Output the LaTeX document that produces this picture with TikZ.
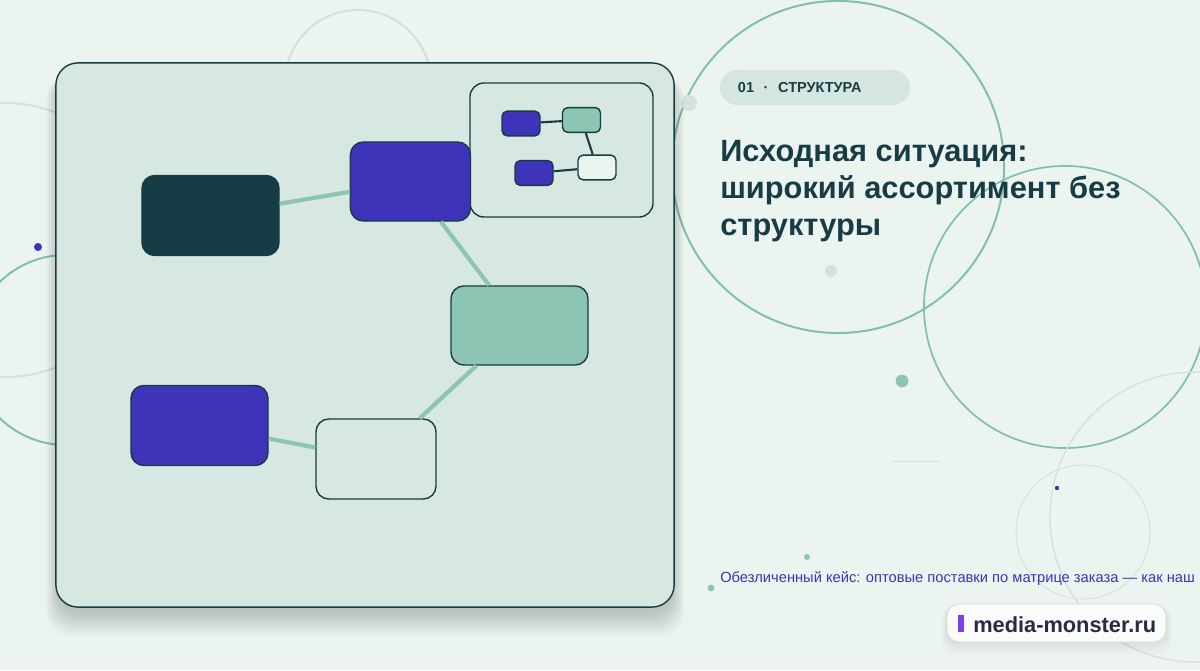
\documentclass[tikz,border=0pt]{standalone}
\usepackage{fontspec}
\setmainfont{Liberation Sans}
\usepackage{tikz}
\usetikzlibrary{positioning, shadows}
\definecolor{bg}{HTML}{ECF4F0}
\definecolor{panel}{HTML}{D7E8E2}
\definecolor{ink}{HTML}{173C46}
\definecolor{indigo}{HTML}{3E33B9}
\definecolor{mint}{HTML}{8CC5B3}
\definecolor{ringgreen}{HTML}{80BFA9}
\definecolor{haze}{HTML}{D3E2DC}
\definecolor{pillfill}{HTML}{D5E6E0}
\definecolor{violet}{HTML}{7B3FE4}
\definecolor{logoink}{HTML}{2B2A45}
\tikzset{
    node distance = 1.75cm and 1.75cm,% gap between two cards
    card/.style = {rectangle, draw=ink, line width=1pt, rounded corners=0.32cm, inner sep=0pt, minimum width=3.425cm, minimum height=2cm}, % the big boxes of the panel
    mini/.style = {rectangle, draw=ink, line width=1pt, rounded corners=0.13cm, inner sep=0pt, minimum width=0.95cm, minimum height=0.62cm}, % boxes of the small map
    link/.style = {draw=mint, line width=3pt},
    wire/.style = {draw=ink, line width=1.5pt},
    hoop/.style = {draw=ringgreen, line width=1.4pt},
    faint/.style = {draw=haze, line width=1.2pt},
    pill/.style = {fill=pillfill, rounded corners=0.43cm, minimum width=4.75cm, minimum height=0.875cm, text width=3.85cm, inner xsep=0.45cm, align=left, text=ink, font=\fontsize{10.3}{12}\selectfont\bfseries}
}
\begin{document}
\begin{tikzpicture}[x=0.025cm, y=-0.025cm]
    \useasboundingbox (0,0) rectangle (1200,670);
    \fill[bg] (0,0) rectangle (1200,670);
    % rings behind everything
    \draw[hoop] (838,167) circle [radius=4.15cm];
    \draw[hoop, line width=1.2pt] (1065,307) circle [radius=3.525cm];
    \draw[faint, line width=1pt] (1195,517) circle [radius=3.625cm];
    \draw[faint, line width=0.7pt] (1083,532) circle [radius=1.675cm];
    \draw[faint, line width=1.5pt] (358,83) circle [radius=1.825cm];
    \draw[faint, line width=1.5pt] (5,240) circle [radius=3.425cm];
    \draw[hoop] (66,350) circle [radius=2.375cm];
    \draw[haze, line width=0.6pt] (892,461) -- (940,461);
    % dots
    \fill[indigo] (38,247) circle [radius=0.1cm];
    \fill[haze] (689,103) circle [radius=0.2cm];
    \fill[haze] (831,271) circle [radius=0.15cm];
    \fill[mint] (902,381) circle [radius=0.16cm];
    \fill[indigo] (1057,488) circle [radius=0.055cm];
    \fill[mint] (807,557) circle [radius=0.075cm];
    \fill[mint] (711,588) circle [radius=0.085cm];
    % panel with soft shadow
    \foreach \s in {1,...,12}
        \fill[black, opacity=0.014, rounded corners=0.6cm] (58-\s,75) rectangle (672+\s,612+2*\s);
    \node[draw=ink, line width=1pt, fill=panel, rounded corners=0.55cm, minimum width=15.45cm, minimum height=13.6cm] (board) at (365,335) {};
    \node[draw=ink, line width=1pt, fill=panel, rounded corners=0.35cm, minimum width=4.575cm, minimum height=3.35cm] (map) at (561.5,150) {};
    % big cards
    \node[card, fill=ink] (1) at (210.5,215.5) {};
    \node[card, fill=indigo, minimum width=3cm, minimum height=1.975cm] (2) [right=1.75cm of 1, yshift=0.85cm] {};
    \node[card, fill=mint, minimum height=1.975cm] (3) at (519.5,325.5) {};
    \node[card, fill=indigo] (4) at (199.5,425.5) {};
    \node[card, fill=panel, minimum width=3cm] (5) at (376,459) {};
    \path[link] (1) edge (2);
    \path[link] (2) edge (3);
    \path[link] (3) edge (5);
    \path[link] (4) edge (5);
    % small map
    \node[mini, fill=indigo] (m1) at (521,123.5) {};
    \node[mini, fill=mint] (m2) at (581.5,120) {};
    \node[mini, fill=indigo] (m3) at (534,173) {};
    \node[mini, fill=bg] (m4) at (597,167.5) {};
    \path[wire] (m1) edge (m2);
    \path[wire] (m2) edge (m4);
    \path[wire] (m3) edge (m4);
    % texts
    \node[pill] (tag) at (815,87.5) {01 \ · \ СТРУКТУРА};
    \node[anchor=north west, inner sep=0pt, align=left, text=ink, font=\fontsize{21.9}{26.5}\selectfont\bfseries] (title) at (720,140) {Исходная ситуация:\\широкий ассортимент без\\структуры};
    \node[anchor=base west, inner sep=0pt, text=indigo, font=\fontsize{10.45}{12}\selectfont] (lede) at (720,582) {Обезличенный кейс: оптовые поставки по матрице заказа — как наш};
    % site badge
    \foreach \s in {1,...,6}
        \fill[black, opacity=0.012, rounded corners=0.35cm] (947-\s,606) rectangle (1166+\s,642+2*\s);
    \node[draw=black!15, line width=0.6pt, fill=white!70!bg, rounded corners=0.3cm, minimum width=5.475cm, minimum height=0.95cm] (chip) at (1056.5,623) {};
    \node[fill=violet, inner sep=0pt, minimum width=0.15cm, minimum height=0.425cm] (bar) at (961,623.5) {};
    \node[anchor=base west, inner sep=0pt, text=logoink, font=\fontsize{15.5}{18}\selectfont\bfseries] (site) at (973,632) {media-monster.ru};
\end{tikzpicture}
\end{document}
